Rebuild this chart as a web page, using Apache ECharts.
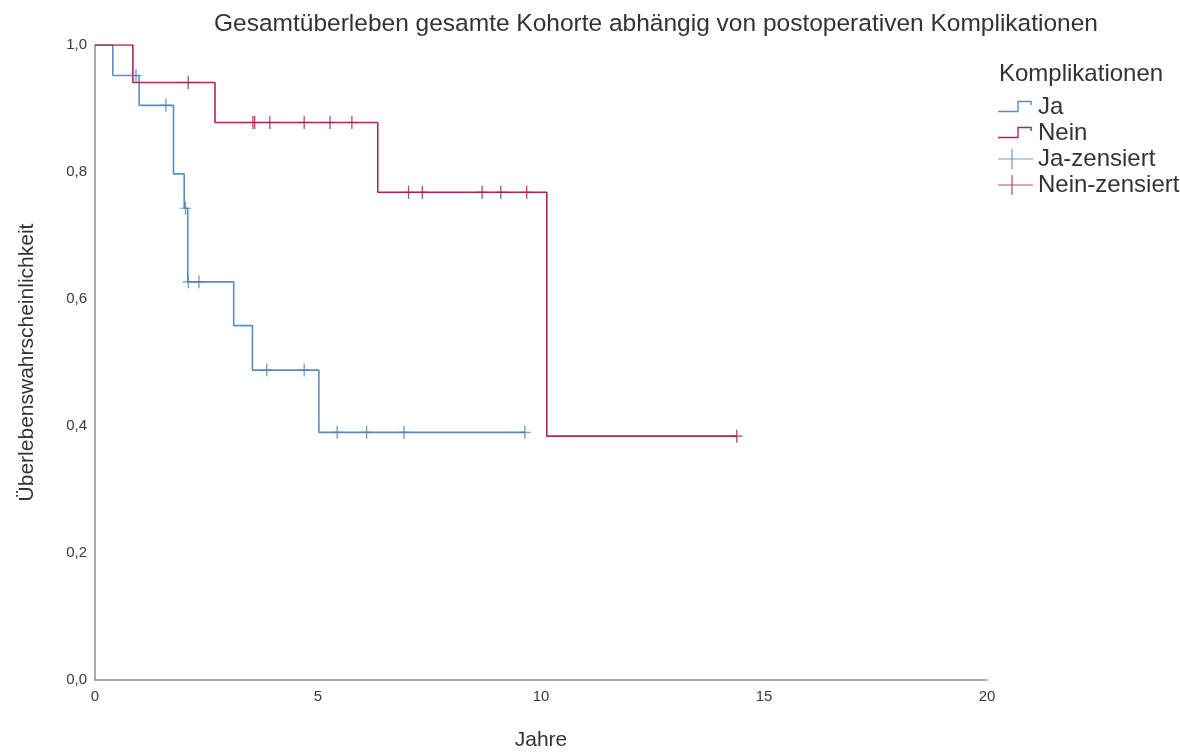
<!DOCTYPE html>
<html>
<head>
<meta charset="utf-8">
<script src="https://cdn.jsdelivr.net/npm/echarts@6/dist/echarts.min.js"></script>
<style>
  html, body { margin: 0; padding: 0; background: #ffffff; }
  #chart { width: 1180px; height: 753px; }
</style>
</head>
<body>
<div id="chart"></div>
<script>
// Kaplan-Meier estimates (years, survival probability)
const jaEventTimes = [0, 0.40, 0.99, 1.76, 2.00, 2.08, 3.11, 3.53, 5.02];
const jaSurvival   = [1.0, 0.952, 0.905, 0.797, 0.743, 0.627, 0.558, 0.488, 0.390];
const jaFollowUpEnd = 9.64;
const jaCensored = [0.92, 1.59, 2.03, 2.09, 2.33, 3.85, 4.69, 5.43, 6.09, 6.93, 9.64];

const neinEventTimes = [0, 0.85, 2.69, 6.34, 10.13];
const neinSurvival   = [1.0, 0.941, 0.878, 0.768, 0.384];
const neinFollowUpEnd = 14.39;
const neinCensored = [2.09, 3.54, 3.58, 3.92, 4.69, 5.27, 5.76, 7.03, 7.34, 8.68, 9.10, 9.68, 14.39];

const xTicks = [0, 5, 10, 15, 20];
const yTicks = [0, 0.2, 0.4, 0.6, 0.8, 1.0];

const BLUE = '#5b8ec8';
const RED = '#b02650';
const FONT = "'Liberation Sans', Arial, sans-serif";

// step curve points: each event plus the end of follow-up
function curve(times, surv, end) {
  const pts = times.map((t, i) => [t, surv[i]]);
  pts.push([end, surv[surv.length - 1]]);
  return pts;
}
// survival value of the step function at time t
function survAt(times, surv, t) {
  let s = surv[0];
  for (let i = 0; i < times.length; i++) if (times[i] <= t) s = surv[i];
  return s;
}

// censoring mark on the curves
const plusPath = 'path://M-6,-60 L6,-60 L6,-5 L50,-5 L50,5 L6,5 L6,60 L-6,60 L-6,5 L-50,5 L-50,-5 L-6,-5 Z';
// legend icons drawn in a 35x20 box; the two tiny corner triangles pin the box size
const boxPins = 'M0,0 L0.01,0 L0,0.01 Z M35,20 L34.99,20 L35,19.99 Z ';
const stepIcon = 'path://' + boxPins +
  'M0,13.8 L19.3,13.8 L19.3,3.8 L33.8,3.8 L33.8,8 L32.4,8 L32.4,5.2 L20.7,5.2 L20.7,15.2 L0,15.2 Z';
const legendPlus = 'path://' + boxPins +
  'M0,9.4 L13.4,9.4 L13.4,0 L14.6,0 L14.6,9.4 L35,9.4 L35,10.6 L14.6,10.6 L14.6,20 L13.4,20 L13.4,10.6 L0,10.6 Z';

const chart = echarts.init(document.getElementById('chart'));
chart.setOption({
  backgroundColor: '#ffffff',
  animation: false,
  textStyle: { fontFamily: FONT },
  title: [
    {
      text: 'Gesamtüberleben gesamte Kohorte abhängig von postoperativen Komplikationen',
      left: 651, top: 7, textAlign: 'center',
      textStyle: { fontFamily: FONT, fontSize: 24.5, fontWeight: 'normal', color: '#333333' }
    },
    {
      text: 'Komplikationen',
      left: 994, top: 57,
      textStyle: { fontFamily: FONT, fontSize: 24, fontWeight: 'normal', color: '#333333' }
    }
  ],
  legend: {
    orient: 'vertical',
    left: 993, top: 90,
    itemGap: 2,
    itemWidth: 35, itemHeight: 20,
    textStyle: { fontFamily: FONT, fontSize: 24, color: '#333333', padding: [0, 0, 0, 0] },
    data: [
      { name: 'Ja', icon: stepIcon },
      { name: 'Nein', icon: stepIcon },
      { name: 'Ja-zensiert', icon: legendPlus },
      { name: 'Nein-zensiert', icon: legendPlus }
    ]
  },
  grid: { left: 95, right: 193, top: 45, bottom: 73, outerBoundsMode: 'none' },
  xAxis: {
    type: 'value', min: 0, max: 20, interval: 5,
    name: 'Jahre', nameLocation: 'middle', nameGap: 50,
    nameTextStyle: { fontFamily: FONT, fontSize: 21, color: '#333333' },
    axisLine: { show: true, lineStyle: { color: '#8f8f8f', width: 1.5 } },
    axisTick: { show: false },
    splitLine: { show: false },
    axisLabel: {
      margin: 9, fontSize: 15, color: '#3a3a3a', fontFamily: FONT,
      customValues: xTicks, formatter: v => String(v)
    }
  },
  yAxis: {
    type: 'value', min: 0, max: 1, interval: 0.2,
    name: 'Überlebenswahrscheinlichkeit', nameLocation: 'middle', nameGap: 57,
    nameTextStyle: { fontFamily: FONT, fontSize: 21, color: '#333333' },
    axisLine: { show: true, lineStyle: { color: '#8f8f8f', width: 1.5 } },
    axisTick: { show: false },
    splitLine: { show: false },
    axisLabel: {
      margin: 8, fontSize: 15, color: '#3a3a3a', fontFamily: FONT,
      customValues: yTicks, formatter: v => v.toFixed(1).replace('.', ',')
    }
  },
  series: [
    {
      name: 'Ja', type: 'line', step: 'end', symbol: 'none',
      color: BLUE, lineStyle: { color: BLUE, width: 1.6 },
      data: curve(jaEventTimes, jaSurvival, jaFollowUpEnd), z: 2
    },
    {
      name: 'Nein', type: 'line', step: 'end', symbol: 'none',
      color: RED, lineStyle: { color: RED, width: 1.6 },
      data: curve(neinEventTimes, neinSurvival, neinFollowUpEnd), z: 3
    },
    {
      name: 'Ja-zensiert', type: 'scatter', symbol: plusPath, symbolSize: [11, 13],
      color: BLUE, itemStyle: { color: '#4f7fb8' },
      data: jaCensored.map(t => [t, survAt(jaEventTimes, jaSurvival, t)]), z: 4
    },
    {
      name: 'Nein-zensiert', type: 'scatter', symbol: plusPath, symbolSize: [11, 13],
      color: RED, itemStyle: { color: '#9c1f45' },
      data: neinCensored.map(t => [t, survAt(neinEventTimes, neinSurvival, t)]), z: 5
    }
  ]
});
</script>
</body>
</html>
